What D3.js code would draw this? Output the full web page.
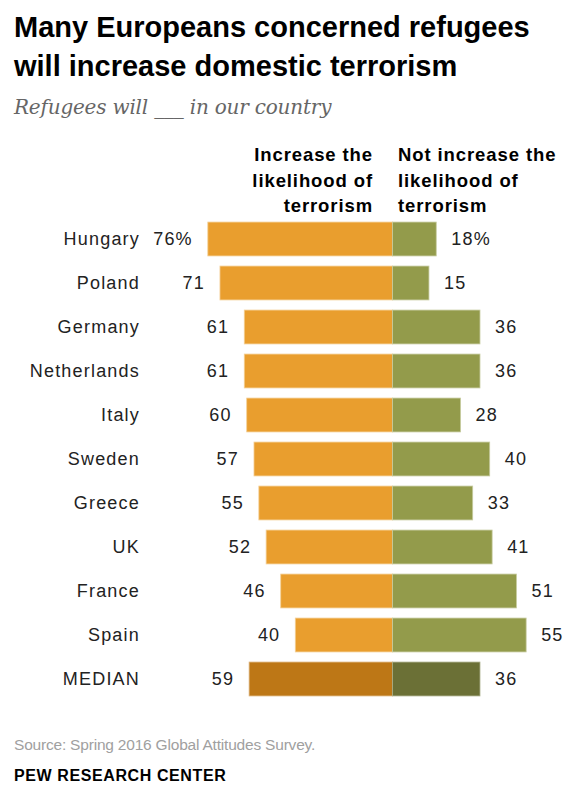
<!DOCTYPE html>
<html>
<head>
<meta charset="utf-8">
<script src="https://cdn.jsdelivr.net/npm/d3@7"></script>
<style>
  body { margin: 0; background: #fff; }
  svg { display: block; }
</style>
</head>
<body>
<svg width="566" height="785"></svg>
<script>
const countries = ["Hungary", "Poland", "Germany", "Netherlands", "Italy", "Sweden", "Greece", "UK", "France", "Spain", "MEDIAN"];
const increase = [76, 71, 61, 61, 60, 57, 55, 52, 46, 40, 59];
const notIncrease = [18, 15, 36, 36, 28, 40, 33, 41, 51, 55, 36];
const leftHeader = ["Increase the", "likelihood of", "terrorism"];
const rightHeader = ["Not increase the", "likelihood of", "terrorism"];

const data = countries.map((c, i) => ({name: c, inc: increase[i], not: notIncrease[i], median: c === "MEDIAN"}));

const svg = d3.select("svg");
const font = "'Liberation Sans', Arial, sans-serif";

const center = 392.5;
const x = d3.scaleLinear()
    .domain([-100, 100])
    .range([center - 243, center + 243]);

const y = d3.scaleBand()
    .domain(countries)
    .range([217, 701])
    .paddingInner(0.23)
    .paddingOuter(0.115);

// title
svg.append("g")
    .selectAll("text")
    .data(["Many Europeans concerned refugees", "will increase domestic terrorism"])
    .enter()
    .append("text")
    .attr("x", 14)
    .attr("y", (d, i) => 37 + i * 39)
    .attr("font-family", font)
    .attr("font-weight", "bold")
    .attr("font-size", 29)
    .attr("fill", "#000")
    .text(d => d);

svg.append("text")
    .attr("x", 14)
    .attr("y", 114)
    .attr("font-family", "'DejaVu Serif', serif")
    .attr("font-style", "italic")
    .attr("font-size", 20)
    .attr("letter-spacing", -0.2)
    .attr("fill", "#666")
    .text("Refugees will ___ in our country");

// column headers
const headerStyle = sel => sel
    .attr("y", (d, i) => 161 + i * 25.5)
    .attr("font-family", font)
    .attr("font-weight", "bold")
    .attr("font-size", 18.5)
    .attr("letter-spacing", 0.9)
    .attr("fill", "#000")
    .text(d => d);

svg.append("g")
    .selectAll("text")
    .data(leftHeader)
    .enter()
    .append("text")
    .attr("x", 373)
    .attr("text-anchor", "end")
    .call(headerStyle);

svg.append("g")
    .selectAll("text")
    .data(rightHeader)
    .enter()
    .append("text")
    .attr("x", 398)
    .call(headerStyle);

// bars
const rows = svg.append("g")
    .selectAll("g")
    .data(data)
    .enter()
    .append("g");

rows.append("rect")
    .attr("x", d => x(-d.inc))
    .attr("y", d => y(d.name))
    .attr("width", d => x(0) - x(-d.inc))
    .attr("height", y.bandwidth())
    .attr("fill", d => d.median ? "#bd7716" : "#e99e2e")
    .attr("stroke", d => d.median ? "#dcb27a" : "#f4cf95")
    .attr("stroke-width", 0.8);

rows.append("rect")
    .attr("x", x(0))
    .attr("y", d => y(d.name))
    .attr("width", d => x(d.not) - x(0))
    .attr("height", y.bandwidth())
    .attr("fill", d => d.median ? "#6b7036" : "#939b4b")
    .attr("stroke", d => d.median ? "#a9ad88" : "#c6cb9f")
    .attr("stroke-width", 0.8);

const labelStyle = sel => sel
    .attr("y", d => y(d.name) + y.bandwidth() / 2)
    .attr("dy", "0.36em")
    .attr("font-family", font)
    .attr("font-size", 18)
    .attr("letter-spacing", 1.2)
    .attr("fill", "#222");

rows.append("text")
    .attr("x", 140)
    .attr("text-anchor", "end")
    .call(labelStyle)
    .text(d => d.name);

rows.append("text")
    .attr("x", d => x(-d.inc) - 15)
    .attr("text-anchor", "end")
    .call(labelStyle)
    .text((d, i) => i === 0 ? d.inc + "%" : d.inc);

rows.append("text")
    .attr("x", d => x(d.not) + 15)
    .call(labelStyle)
    .text((d, i) => i === 0 ? d.not + "%" : d.not);

// footer
svg.append("text")
    .attr("x", 14)
    .attr("y", 750)
    .attr("font-family", font)
    .attr("font-size", 15.5)
    .attr("letter-spacing", -0.2)
    .attr("fill", "#a0a0a0")
    .text("Source: Spring 2016 Global Attitudes Survey.");

svg.append("text")
    .attr("x", 14)
    .attr("y", 781)
    .attr("font-family", font)
    .attr("font-weight", "bold")
    .attr("font-size", 16)
    .attr("letter-spacing", 0.6)
    .attr("fill", "#000")
    .text("PEW RESEARCH CENTER");
</script>
</body>
</html>
